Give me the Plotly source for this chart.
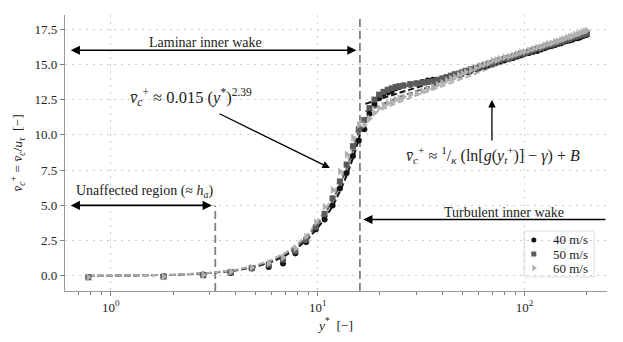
import numpy as np
import plotly.graph_objects as go

# y* positions of the measured points (shared by the three free-stream speeds)
y_star = [0.78, 1.8, 2.8, 3.8, 4.8, 5.8, 6.8, 7.8, 8.8, 9.8, 10.8, 11.8, 12.8, 13.8, 14.8, 15.8,
          16.8, 17.8, 18.8, 19.8, 20.8, 21.8, 22.8, 23.8, 24.8,
          26, 28, 30, 32, 34, 36, 38, 40, 42, 44, 46, 48, 50, 52,
          55, 58, 61, 64, 67, 70, 73,
          76, 80, 84, 88, 92, 96, 100,
          105, 110, 115, 120, 125, 130, 135, 140, 145, 150, 155, 160, 165, 170, 175, 180, 185, 190, 195, 200]

v40 = [-0.07, -0.02, 0.1, 0.21, 0.52, 0.64, 0.88, 1.59, 2.41, 3.3, 4.0, 5.0, 6.2, 7.3, 8.5, 9.6,
       10.4, 11.5, 12.2, 12.6, 12.9, 13.0, 13.1, 13.3, 13.4,
       13.5, 13.55, 13.65, 13.75, 13.85, 13.9, 13.9, 14.0, 14.05, 14.15, 14.25, 14.3, 14.4, 14.45,
       14.6, 14.7, 14.8, 14.85, 14.95, 15.05, 15.15,
       15.2, 15.3, 15.4, 15.45, 15.55, 15.65, 15.75,
       15.8, 15.9, 15.95, 16.05, 16.15, 16.25, 16.3, 16.35, 16.45, 16.5, 16.6, 16.65, 16.7, 16.75, 16.85, 16.85, 16.9, 17.0, 17.05, 17.1]

v50 = [-0.1, -0.05, 0.05, 0.25, 0.55, 0.8, 1.15, 1.75, 2.55, 3.45, 4.4, 5.5, 6.7, 7.9, 9.2, 10.4,
       11.05, 11.9, 12.5, 12.85, 13.05, 13.2, 13.3, 13.4, 13.45,
       13.5, 13.6, 13.65, 13.7, 13.75, 13.8, 13.9, 14.0, 14.1, 14.2, 14.3, 14.35, 14.45, 14.55,
       14.65, 14.75, 14.85, 14.95, 15.05, 15.1, 15.2,
       15.3, 15.4, 15.45, 15.55, 15.65, 15.75, 15.8,
       15.9, 16.0, 16.1, 16.15, 16.25, 16.35, 16.4, 16.45, 16.55, 16.6, 16.7, 16.75, 16.8, 16.9, 16.95, 17.0, 17.05, 17.1, 17.15, 17.2]

v60 = [-0.1, -0.05, 0.08, 0.3, 0.6, 0.9, 1.3, 1.95, 2.8, 3.8, 4.9, 6.1, 7.4, 8.6, 9.8, 10.7,
       10.7, 11.15, 11.55, 11.9, 12.1, 12.25, 12.35, 12.5, 12.6,
       12.7, 12.85, 12.95, 13.1, 13.25, 13.4, 13.55, 13.7, 13.85, 14.0, 14.1, 14.25, 14.35, 14.45,
       14.6, 14.75, 14.9, 15.0, 15.1, 15.25, 15.3,
       15.4, 15.5, 15.55, 15.65, 15.75, 15.85, 15.9,
       16.0, 16.1, 16.2, 16.25, 16.35, 16.45, 16.5, 16.6, 16.65, 16.75, 16.8, 16.9, 16.95, 17.0, 17.1, 17.15, 17.2, 17.3, 17.35, 17.4]

# fitted curves: power law (laminar) and log law (turbulent)
fit_x_lam = [0.78, 1, 1.5, 2, 3, 4, 5, 6, 7, 8, 9, 10, 11, 12, 13, 14, 15, 16]
fit40_lam = [0.0, 0.01, 0.03, 0.07, 0.2, 0.38, 0.65, 1.0, 1.45, 2.0, 2.65, 3.4, 4.2, 5.15, 6.2, 7.35, 8.6, 10.0]
fit50_lam = [0.0, 0.01, 0.03, 0.07, 0.21, 0.41, 0.7, 1.08, 1.56, 2.15, 2.85, 3.65, 4.55, 5.55, 6.65, 7.85, 9.15, 10.55]
fit60_lam = [0.0, 0.01, 0.03, 0.08, 0.22, 0.43, 0.74, 1.14, 1.65, 2.27, 3.0, 3.85, 4.8, 5.85, 7.0, 8.25, 9.6, 11.05]
fit_x_turb = [17, 20, 25, 30, 40, 50, 70, 100, 150, 200]
fit40_turb = [12.2, 12.55, 13.0, 13.35, 13.9, 14.35, 15.0, 15.7, 16.5, 17.05]
fit50_turb = [11.65, 12.1, 12.7, 13.1, 13.7, 14.15, 14.9, 15.6, 16.45, 17.1]
fit60_turb = [11.2, 11.75, 12.35, 12.8, 13.45, 14.0, 14.8, 15.6, 16.5, 17.2]

speeds = ["40 m/s", "50 m/s", "60 m/s"]

h_a = 3.2          # end of unaffected region
y_trans = 16       # laminar / turbulent inner wake
Y_MIN, Y_MAX = -1.07, 18.5

FONT = "Liberation Serif"
lg = np.log10

fig = go.Figure()

# boundaries
fig.add_trace(go.Scatter(x=[h_a, h_a], y=[Y_MIN, 5.0], mode='lines', showlegend=False,
                         line=dict(color='#7f7f7f', width=1.8, dash='8px,4px')))
fig.add_trace(go.Scatter(x=[y_trans, y_trans], y=[Y_MIN, Y_MAX], mode='lines', showlegend=False,
                         line=dict(color='#7f7f7f', width=1.8, dash='8px,4px')))

colors = ['#111111', '#5a5a5a', '#b0b0b0']
symbols = ['circle', 'square', 'triangle-right']
sizes = [6, 6, 7]

for fl, ft, col in zip([fit40_lam, fit50_lam, fit60_lam], [fit40_turb, fit50_turb, fit60_turb], colors):
    fig.add_trace(go.Scatter(x=fit_x_lam + [None] + fit_x_turb, y=fl + [None] + ft,
                             mode='lines', showlegend=False,
                             line=dict(color=col, width=2, dash='6px,3px')))

for v, name, col, sym, sz in zip([v40, v50, v60], speeds, colors, symbols, sizes):
    fig.add_trace(go.Scatter(x=y_star, y=v, mode='markers', name=name, showlegend=False,
                             marker=dict(color=col, symbol=sym, size=sz, line=dict(width=0))))

# hand made legend on an overlay axis spanning the plot area (0..1)
leg_x, leg_y = 0.865, [0.185, 0.134, 0.083]
for i, (name, col, sym) in enumerate(zip(speeds, colors, symbols)):
    fig.add_trace(go.Scatter(x=[leg_x], y=[leg_y[i]], xaxis='x2', yaxis='y2', mode='markers',
                             showlegend=False, hoverinfo='skip',
                             marker=dict(color=col, symbol=sym, size=5 if i < 2 else 6, line=dict(width=0))))

def arrow(x0, y0, x1, y1, both=False, width=1.6):
    # arrow from (x0,y0) to head at (x1,y1); log x axis -> annotation uses log10
    return dict(x=lg(x1), y=y1, ax=lg(x0), ay=y0, xref='x', yref='y', axref='x', ayref='y',
                text='', showarrow=True, arrowhead=2, startarrowhead=2,
                arrowside='end+start' if both else 'end',
                arrowsize=1.15, startarrowsize=1.15, arrowwidth=width, arrowcolor='black')

def label(x, y, txt, size=14):
    return dict(x=lg(x), y=y, xref='x', yref='y', text=txt, showarrow=False,
                font=dict(family=FONT, size=size, color='#222'))

annotations = [
    arrow(0.63, 16, 15.4, 16, both=True),
    arrow(0.63, 5, 3.08, 5, both=True),
    arrow(250, 4.0, 16.6, 4.0),
    arrow(3.3, 11.55, 11.46, 7.65, width=1.3),
    arrow(69.5, 9.5, 69.5, 12.48, width=1.3),
    label(2.86, 16.55, "Laminar inner wake"),
    label(1.45, 5.97, "Unaffected region (≈ <i>h</i><sub><i>a</i></sub>)"),
    label(79.6, 4.47, "Turbulent inner wake"),
    label(2.45, 12.7, "<i>v̄</i><sub><i>c</i></sub><sup>+</sup> ≈ 0.015 (<i>y</i><sup>*</sup>)<sup>2.39</sup>", 16.5),
    label(70.7, 8.57, "<i>v̄</i><sub><i>c</i></sub><sup>+</sup> ≈ <sup>1</sup>/<sub><i>κ</i></sub> (ln[<i>g</i>(<i>y</i><sub><i>t</i></sub><sup>+</sup>)] − <i>γ</i>) + <i>B</i>", 16),
]
for i, name in enumerate(speeds):
    annotations.append(dict(x=0.897, y=leg_y[i], xref='paper', yref='paper', text=name,
                            showarrow=False, xanchor='left', yanchor='middle',
                            font=dict(family=FONT, size=13, color='#222')))

fig.update_layout(
    # page body has an 8px margin, so the figure is shrunk by that amount
    width=615, height=334,
    margin=dict(l=57, r=16, t=7, b=51),
    paper_bgcolor='white', plot_bgcolor='white',
    font=dict(family=FONT, size=13, color='#222'),
    annotations=annotations,
    shapes=[dict(type='rect', xref='paper', yref='paper', x0=0.847, x1=0.976, y0=0.051, y1=0.217,
                 line=dict(color='#dddddd', width=1), fillcolor='rgba(255,255,255,0.85)', layer='between')],
    showlegend=False,
    xaxis2=dict(overlaying='x', range=[0, 1], visible=False, fixedrange=True),
    yaxis2=dict(overlaying='y', range=[0, 1], visible=False, fixedrange=True),
)

fig.update_layout(xaxis=dict(type='log', range=[-0.221, 2.398], automargin=False,
                 tickvals=[1, 10, 100], ticktext=["10<sup>0</sup>", "10<sup>1</sup>", "10<sup>2</sup>"],
                 ticks='outside', ticklen=4, tickcolor='#808080',
                 showline=True, linecolor='#999999', linewidth=1.2,
                 showgrid=True, gridcolor='#cccccc', griddash='2px,5px', gridwidth=1,
                 zeroline=False,
                 minor=dict(tickvals=[0.6, 0.7, 0.8, 0.9, 2, 3, 4, 5, 6, 7, 8, 9,
                                      20, 30, 40, 50, 60, 70, 80, 90, 200],
                            ticks='outside', ticklen=2.5, tickcolor='#808080', showgrid=False),
                 title=dict(text="<i>y</i><sup>*</sup>  [−]", font=dict(family=FONT, size=13.5), standoff=6)),
                  yaxis=dict(range=[Y_MIN, Y_MAX], tick0=0, dtick=2.5, tickformat='.1f', automargin=False,
                 ticks='outside', ticklen=4, tickcolor='#808080',
                 showline=True, linecolor='#999999', linewidth=1.2,
                 showgrid=True, gridcolor='#cccccc', griddash='2px,5px', gridwidth=1,
                 zeroline=False,
                 title=dict(text="<i>v̄</i><sub><i>c</i></sub><sup>+</sup> = <i>v̄</i><sub><i>c</i></sub>/<i>u</i><sub><i>τ</i></sub>  [−]",
                            font=dict(family=FONT, size=13.5), standoff=8)))

fig.write_html("out.html")
